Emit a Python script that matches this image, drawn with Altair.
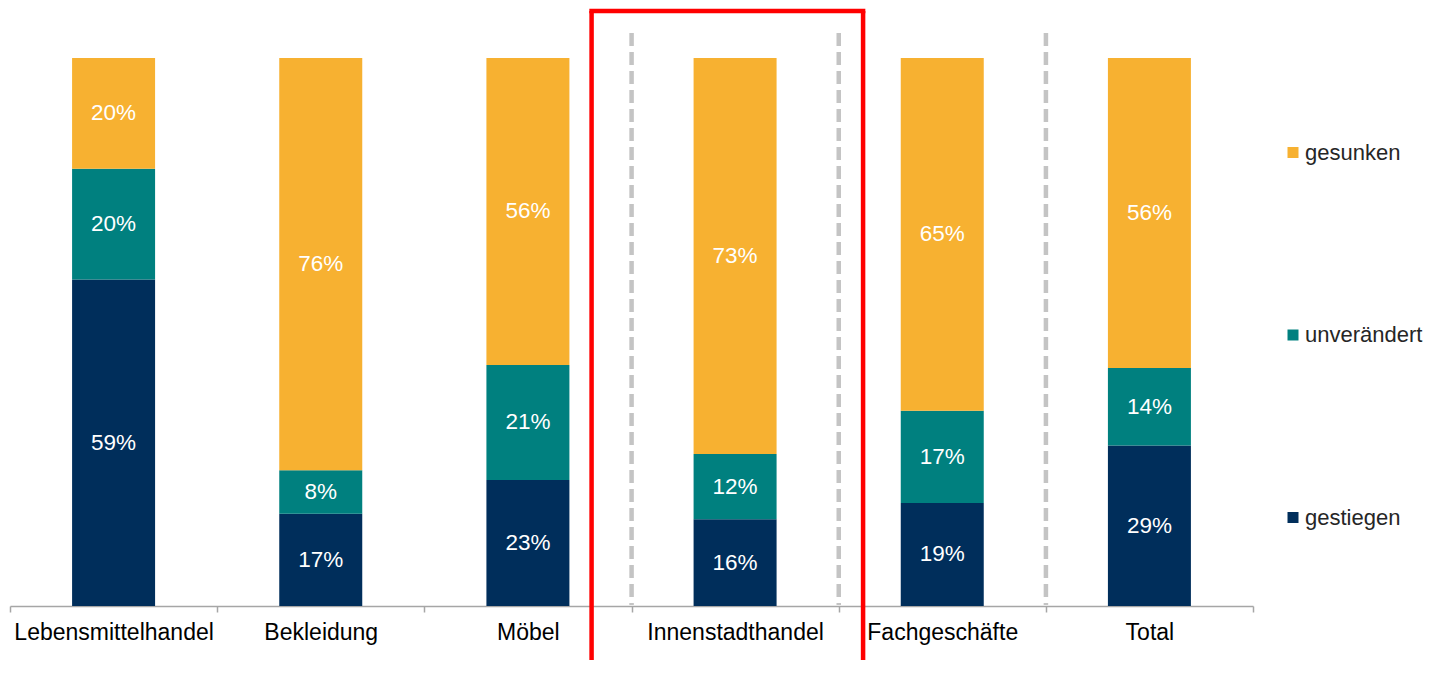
import altair as alt
import pandas as pd

categories = ["Lebensmittelhandel", "Bekleidung", "Möbel", "Innenstadthandel", "Fachgeschäfte", "Total"]
series = ["gestiegen", "unverändert", "gesunken"]
gestiegen = [59, 17, 23, 16, 19, 29]
unveraendert = [20, 8, 21, 12, 17, 14]
gesunken = [20, 76, 56, 73, 65, 56]
colors = {"gesunken": "#F7B131", "unverändert": "#00807F", "gestiegen": "#002E5B"}
dashed_before = ["Innenstadthandel", "Fachgeschäfte", "Total"]
highlight = ["Innenstadthandel"]

rows = []
for i, c in enumerate(categories):
    for k, (s, vals) in enumerate(zip(series, [gestiegen, unveraendert, gesunken])):
        rows.append({"cat": c, "series": s, "ord": k, "value": vals[i]})
df = pd.DataFrame(rows)

FONT = "Liberation Sans"
legend_order = ["gesunken", "unverändert", "gestiegen"]

W, H = 1243, 596
STEP = 207
xscale = alt.Scale(domain=categories, paddingInner=0, paddingOuter=0)
yscale = alt.Scale(domain=[0, 1.0876], nice=False, zero=False)

base = (
    alt.Chart(df)
    .transform_joinaggregate(total="sum(value)", groupby=["cat"])
    .transform_calculate(pct="datum.value / datum.total")
    .transform_stack(stack="pct", groupby=["cat"], as_=["y0", "y1"],
                     sort=[alt.SortField("ord", order="ascending")])
    .transform_calculate(mid="(datum.y0 + datum.y1) / 2", label="datum.value + '%'")
)

xenc = alt.X("cat:N", scale=xscale,
             axis=alt.Axis(title=None, labelAngle=0, labelAlign="center", labelFontSize=23,
                           labelFont=FONT, labelColor="#000000", labelLimit=400,
                           domainColor="#A6A6A6", tickColor="#A6A6A6",
                           tickSize=6, tickBand="extent", labelPadding=20, domainWidth=1.5,
                           tickWidth=1.5))

bars = base.mark_bar(width=83).encode(
    x=xenc,
    y=alt.Y("y0:Q", scale=yscale, axis=None),
    y2="y1:Q",
    color=alt.Color("series:N",
                    scale=alt.Scale(domain=legend_order, range=[colors[s] for s in legend_order]),
                    legend=alt.Legend(title=None, orient="none", legendX=1272, legendY=131.5,
                                      symbolType="square", symbolSize=121, labelFontSize=22,
                                      labelFont=FONT, labelColor="#262626", rowPadding=160.5,
                                      labelOffset=1, padding=0, symbolStrokeWidth=0,
                                      labelLimit=300)),
)

texts = base.mark_text(color="white", fontSize=22.5, font=FONT).encode(
    x=alt.X("cat:N", scale=xscale),
    y=alt.Y("mid:Q", scale=yscale, axis=None),
    text="label:N",
)

rule_df = pd.DataFrame({"cat": dashed_before, "top": [1.0456] * 3, "bot": [0.002] * 3})
rules = alt.Chart(rule_df).mark_rule(
    color="#C4C4C4", strokeWidth=4.5, strokeDash=[13, 6], xOffset=-STEP / 2
).encode(
    x=alt.X("cat:N", scale=xscale),
    y=alt.Y("top:Q", scale=yscale, axis=None),
    y2="bot:Q",
)

box_df = pd.DataFrame({"cat": highlight, "top": [1.0858], "bot": [-0.2]})
box_left = alt.Chart(box_df).mark_rule(color="#FF0000", strokeWidth=4.5, xOffset=-143.5).encode(
    x=alt.X("cat:N", scale=xscale),
    y=alt.Y("top:Q", scale=yscale, axis=None),
    y2="bot:Q",
)
box_right = alt.Chart(box_df).mark_rule(color="#FF0000", strokeWidth=4.5, xOffset=128).encode(
    x=alt.X("cat:N", scale=xscale),
    y=alt.Y("top:Q", scale=yscale, axis=None),
    y2="bot:Q",
)
box_top = alt.Chart(box_df).mark_tick(color="#FF0000", thickness=4.5, size=276, xOffset=-7.75,
                                      opacity=1).encode(
    x=alt.X("cat:N", scale=xscale),
    y=alt.Y("top:Q", scale=yscale, axis=None),
)

chart = (
    alt.layer(rules, bars, texts, box_left, box_right, box_top)
    .properties(width=W, height=H, autosize=alt.AutoSizeParams(type="none"),
                padding={"left": 2, "top": 2, "right": 172, "bottom": 54},
                background="white")
    .configure_view(stroke=None)
)

chart.save("out.html", embed_options={"renderer": "svg", "actions": False})
